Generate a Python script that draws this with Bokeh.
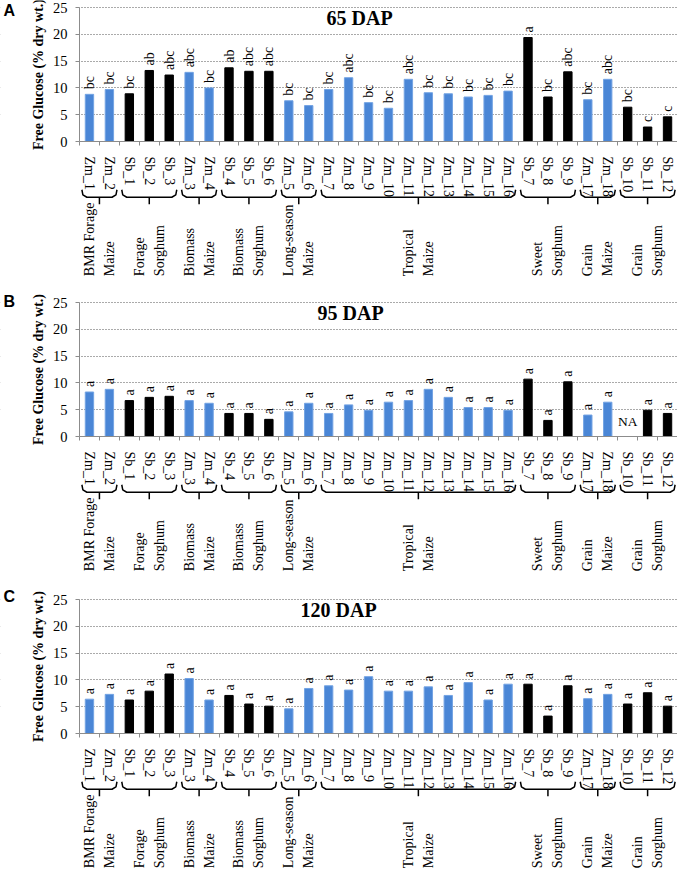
import math
import numpy as np
from bokeh.plotting import figure
from bokeh.models import FixedTicker, Range1d, ColumnDataSource
from bokeh.layouts import column
from bokeh.embed import file_html
from bokeh.resources import INLINE
from bokeh.core.properties import value

# ---------------- data ----------------
genotypes = ["Zm_1", "Zm_2", "Sb_1", "Sb_2", "Sb_3", "Zm_3", "Zm_4", "Sb_4", "Sb_5", "Sb_6",
             "Zm_5", "Zm_6", "Zm_7", "Zm_8", "Zm_9", "Zm_10", "Zm_11", "Zm_12", "Zm_13", "Zm_14",
             "Zm_15", "Zm_16", "Sb_7", "Sb_8", "Sb_9", "Zm_17", "Zm_18", "Sb_10", "Sb_11", "Sb_12"]

group_names = ["BMR Forage\nMaize", "Forage\nSorghum", "Biomass\nMaize", "Biomass\nSorghum",
               "Long-season\nMaize", "Tropical\nMaize", "Sweet\nSorghum", "Grain\nMaize", "Grain\nSorghum"]
group_sizes = [2, 3, 2, 3, 2, 10, 3, 2, 3]

glucose_65 = [8.8, 9.7, 8.9, 13.25, 12.4, 12.9, 10.0, 13.75, 13.1, 13.1,
              7.6, 6.7, 9.7, 11.9, 7.25, 6.2, 11.6, 9.1, 8.9, 8.3,
              8.6, 9.4, 19.4, 8.3, 13.0, 7.8, 11.6, 6.4, 2.7, 4.6]
letters_65 = ["bc", "bc", "bc", "ab", "abc", "abc", "bc", "ab", "abc", "abc",
              "bc", "bc", "bc", "abc", "bc", "bc", "abc", "bc", "bc", "bc",
              "bc", "bc", "a", "bc", "abc", "bc", "abc", "bc", "c", "c"]

glucose_95 = [8.3, 8.8, 6.7, 7.3, 7.5, 6.7, 6.2, 4.3, 4.3, 3.2,
              4.6, 6.2, 4.3, 5.9, 4.9, 6.4, 6.7, 8.8, 7.3, 5.4,
              5.4, 4.9, 10.7, 3.0, 10.2, 4.0, 6.4, None, 4.9, 4.3]
letters_95 = ["a"] * 27 + [""] + ["a", "a"]

glucose_120 = [6.4, 7.3, 6.25, 7.9, 11.1, 10.25, 6.25, 7.1, 5.5, 5.1,
               4.6, 8.4, 8.9, 8.1, 10.6, 7.9, 7.9, 8.7, 7.1, 9.5,
               6.25, 9.2, 9.2, 3.25, 8.9, 6.5, 7.3, 5.5, 7.6, 5.1]
letters_120 = ["a"] * 30

panel_letters = ["A", "B", "C"]
panel_titles = ["65 DAP", "95 DAP", "120 DAP"]
y_label = "Free Glucose (% dry wt.)"
y_ticks = [0, 5, 10, 15, 20, 25]
y_max = 25
missing_text = "NA"

# ---------------- style / layout ----------------
BLUE = "#4a86d6"
BLUE_EDGE = "#73a3e3"
AXIS_GRAY = "#8c8c8c"
SERIF = "Liberation Serif"
SANS = "Liberation Sans"

WIDTH = 677
AXIS_PX = 79            # pixel position of the y axis inside the canvas
PX_PER_UNIT = 134 / 25  # vertical scale
BELOW_PX = 136          # frame extent below the zero line

n = len(genotypes)
cat_px = (WIDTH - AXIS_PX) / n
x_start = -AXIS_PX / cat_px

centers = [i + 0.5 for i in range(n)]
colors = [BLUE if g.startswith("Zm") else "black" for g in genotypes]
edges = [BLUE_EDGE if g.startswith("Zm") else "black" for g in genotypes]

bounds = np.concatenate([[0], np.cumsum(group_sizes)]).astype(float)
group_centers = [(b0 + b1) / 2 for b0, b1 in zip(bounds[:-1], bounds[1:])]
group_line1 = [g.split("\n")[0] for g in group_names]
group_line2 = [g.split("\n")[1] for g in group_names]


def make_panel(vals, lets, letter, letter_dy, title, title_x, above_px, height, bottom):
    y1 = y_max + above_px / PX_PER_UNIT
    y0 = -BELOW_PX / PX_PER_UNIT
    p = figure(width=WIDTH, height=height, x_range=Range1d(x_start, n), y_range=Range1d(y0, y1),
               output_backend="svg", toolbar_location=None,
               min_border_left=0, min_border_right=0, min_border_top=0,
               min_border_bottom=bottom)
    p.outline_line_color = None
    p.xgrid.visible = False
    p.ygrid.ticker = FixedTicker(ticks=y_ticks[1:])
    p.ygrid.grid_line_color = "#555555"
    p.ygrid.grid_line_dash = "1 2"
    p.ygrid.grid_line_width = 1

    # mask the grid left of the value axis
    p.quad(left=[x_start - 1], right=[0], bottom=[0.3], top=[y1], fill_color="white",
           line_color=None)

    ya = p.yaxis[0]
    ya.fixed_location = 0
    ya.ticker = FixedTicker(ticks=y_ticks)
    ya.bounds = (0, y_max)
    ya.axis_line_color = AXIS_GRAY
    ya.major_tick_line_color = AXIS_GRAY
    ya.major_tick_out = 4
    ya.major_tick_in = 0
    ya.minor_tick_line_color = None
    ya.major_label_text_font = SERIF
    ya.major_label_text_font_size = "14.5px"
    ya.major_label_text_color = "black"
    ya.major_label_standoff = 8

    xa = p.xaxis[0]
    xa.fixed_location = 0
    xa.ticker = FixedTicker(ticks=centers, minor_ticks=[float(k) for k in range(n + 1)])
    xa.major_label_overrides = {c: g for c, g in zip(centers, genotypes)}
    xa.major_label_orientation = "vertical"
    xa.major_label_text_font = SERIF
    xa.major_label_text_font_size = "14px"
    xa.major_label_text_color = "black"
    xa.major_label_standoff = 9
    xa.major_tick_line_color = None
    xa.minor_tick_line_color = AXIS_GRAY
    xa.minor_tick_out = 4
    xa.minor_tick_in = 0
    xa.axis_line_color = AXIS_GRAY
    xa.bounds = (0, n)

    tops = [np.nan if v is None else v for v in vals]
    src = ColumnDataSource(dict(x=centers, top=tops, fill=colors, edge=edges))
    p.vbar(x="x", top="top", bottom=0, width=0.42, fill_color="fill", line_color="edge",
           line_width=1, source=src)

    # significance letters
    lx, ly, lt = [], [], []
    for c, v, t in zip(centers, vals, lets):
        if v is not None and t:
            lx.append(c)
            ly.append(v)
            lt.append(t)
    p.text(x=lx, y=ly, text=lt, angle=math.pi / 2, text_align="left", text_baseline="middle",
           y_offset=-5, text_font=value(SERIF), text_font_size="14px", text_color="black")

    # missing values
    mx = [c for c, v in zip(centers, vals) if v is None]
    if mx:
        p.text(x=mx, y=[0] * len(mx), text=[missing_text] * len(mx), text_align="center",
               text_baseline="bottom", y_offset=-8, text_font=value(SERIF),
               text_font_size="13.5px", text_color="black")

    # brackets
    ins, cr = 0.12, 0.25
    y_end, y_bar, y_stem = -9.0, -10.4, -11.7
    bxs, bys, sxs, sys_ = [], [], [], []
    for b0, b1, xc in zip(bounds[:-1], bounds[1:], group_centers):
        bxs.append([b0 + ins, b0 + ins + 0.05, b0 + ins + cr, b1 - ins - cr, b1 - ins - 0.05, b1 - ins])
        bys.append([y_end, y_bar + 0.45, y_bar, y_bar, y_bar + 0.45, y_end])
        sxs.append([xc, xc])
        sys_.append([y_bar, y_stem])
    p.multi_line(xs=bxs, ys=bys, line_color="black", line_width=1.5)
    p.multi_line(xs=sxs, ys=sys_, line_color="black", line_width=1.5)

    # group labels (two lines each)
    ng = len(group_centers)
    yl = y0 + 0.25
    p.text(x=group_centers, y=[yl] * ng, text=group_line1, angle=math.pi / 2, x_offset=-10,
           text_align="left", text_baseline="middle",
           text_font=value(SERIF), text_font_size="14px", text_color="black")
    p.text(x=group_centers, y=[yl] * ng, text=group_line2, angle=math.pi / 2, x_offset=10,
           text_align="left", text_baseline="middle",
           text_font=value(SERIF), text_font_size="14px", text_color="black")

    # panel title
    p.text(x=[title_x], y=[y_max], text=[title], text_align="center", text_baseline="top",
           y_offset=-1, text_font=value(SERIF), text_font_style="bold", text_font_size="20px",
           text_color="black")

    # value-axis title, centred on the 0-25 scale
    p.text(x=[0], y=[y_max / 2], text=[y_label], x_offset=-41, angle=math.pi / 2,
           text_align="center", text_baseline="middle", text_font=value(SERIF),
           text_font_style="bold", text_font_size="14px", text_color="black")

    # panel letter
    p.text(x=[x_start], y=[y_max], text=[letter], x_offset=3, y_offset=-letter_dy,
           text_align="left", text_baseline="top", text_font=value(SANS),
           text_font_style="bold", text_font_size="16px", text_color="black")
    return p


title_xs = [14.05, 13.6, 13.0]
letter_dys = [6, 10, 12]
above = [7, 12, 12]
heights = [290, 297, 282]
bottoms_b = [13, 15, 0]
data = [(glucose_65, letters_65), (glucose_95, letters_95), (glucose_120, letters_120)]

panels = []
for k in range(3):
    panels.append(make_panel(data[k][0], data[k][1], panel_letters[k], letter_dys[k],
                             panel_titles[k], title_xs[k], above[k], heights[k], bottoms_b[k]))

layout = column(*panels, spacing=0)
open("out.html", "w").write(file_html(layout, INLINE))
